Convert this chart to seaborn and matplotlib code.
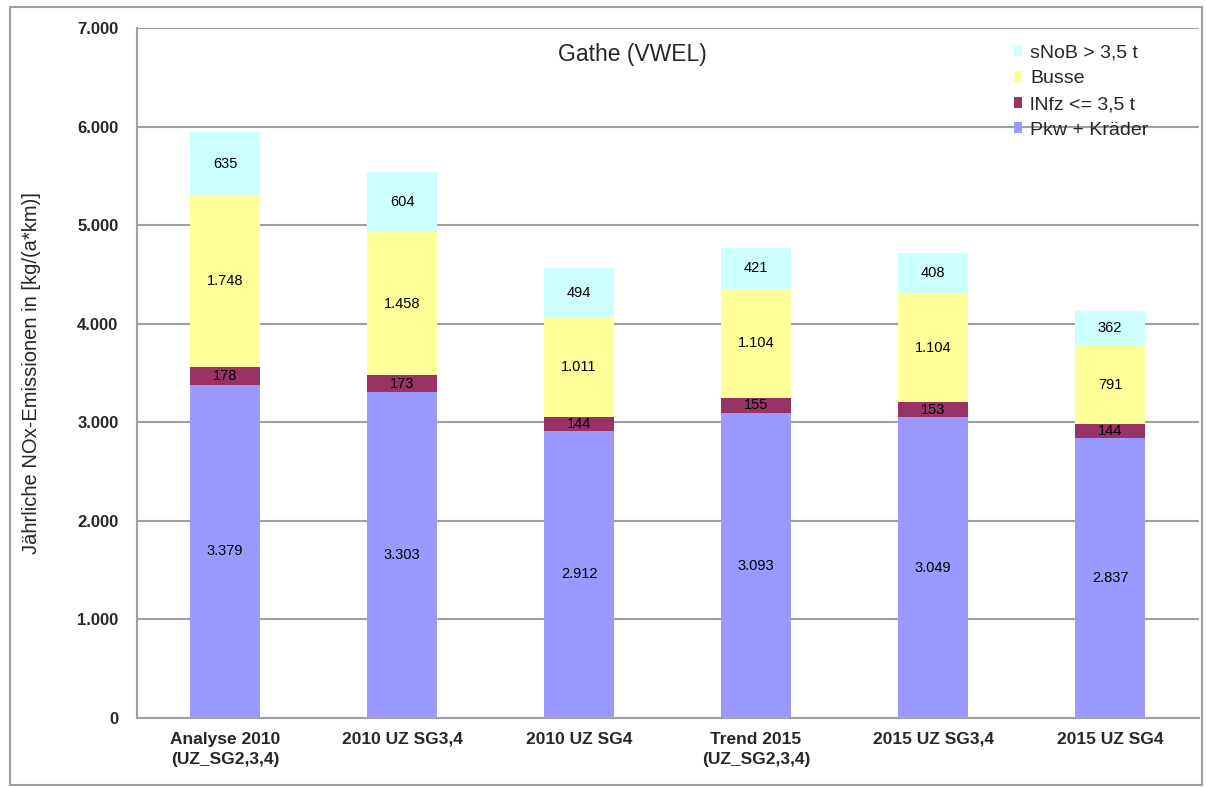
import matplotlib.pyplot as plt
import matplotlib.ticker as mticker
from matplotlib.patches import Rectangle, Patch
import numpy as np
import pandas as pd
import seaborn as sns

# Data
categories = ["Analyse 2010\n(UZ_SG2,3,4)", "2010 UZ SG3,4", "2010 UZ SG4",
              "Trend 2015\n(UZ_SG2,3,4)", "2015 UZ SG3,4", "2015 UZ SG4"]
pkw = [3379, 3303, 2912, 3093, 3049, 2837]
lnfz = [178, 173, 144, 155, 153, 144]
busse = [1748, 1458, 1011, 1104, 1104, 791]
snob = [635, 604, 494, 421, 408, 362]

series_names = ["Pkw + Kräder", "lNfz <= 3,5 t", "Busse", "sNoB > 3,5 t"]
series_vals = [pkw, lnfz, busse, snob]
series_colors = ["#9999FF", "#993366", "#FFFF99", "#CCFFFF"]

sns.set_style("white")
plt.rcParams["font.family"] = ["Liberation Sans", "DejaVu Sans"]


def de_fmt(v):
    return f"{int(v):,}".replace(",", ".")


fig = plt.figure(figsize=(12.06, 7.87), dpi=100)
ax = fig.add_axes([0.1132, 0.0877, 0.8806, 0.8767])

bottom = np.zeros(len(categories))
for name, vals, col in zip(series_names, series_vals, series_colors):
    df = pd.DataFrame({"cat": categories, "val": vals})
    sns.barplot(data=df, x="cat", y="val", color=col, width=0.4,
                bottom=bottom, ax=ax, saturation=1, linewidth=0,
                errorbar=None, zorder=3)
    for i, v in enumerate(vals):
        ax.text(i, bottom[i] + v / 2, de_fmt(v), ha="center", va="center",
                fontsize=10.5, color="black", zorder=4)
    bottom = bottom + np.array(vals)

ax.set_xlim(-0.5, len(categories) - 0.5)
ax.set_ylim(0, 7000)
ax.yaxis.set_major_locator(mticker.MultipleLocator(1000))
ax.yaxis.set_major_formatter(mticker.FuncFormatter(lambda x, _: de_fmt(x)))
ax.yaxis.grid(True, color="#A0A0A0", linewidth=1.5, zorder=0)
ax.set_axisbelow(True)

# x tick marks at category boundaries, labels at centres
ax.set_xticks(np.arange(len(categories)))
ax.set_xticklabels(categories, fontsize=12.5, fontweight="bold",
                   linespacing=1.4)
ax.set_xticks(np.arange(len(categories) + 1) - 0.5, minor=True)
ax.tick_params(axis="x", which="major", length=0, pad=10)
ax.tick_params(axis="x", which="minor", length=5, color="#A0A0A0", width=1.2)
ax.tick_params(axis="y", length=5, color="#A0A0A0", width=1.2, labelsize=12,
               pad=8)
for lab in ax.get_yticklabels():
    lab.set_fontweight("bold")

ax.set_xlabel("")
ax.set_ylabel("Jährliche NOx-Emissionen in [kg/(a*km)]", fontsize=14.5)
ax.yaxis.set_label_coords(-0.09, 0.5)

for side in ["top", "right"]:
    ax.spines[side].set_visible(False)
for side in ["left", "bottom"]:
    ax.spines[side].set_color("#A0A0A0")
    ax.spines[side].set_linewidth(1.5)

ax.text(0.467, 0.979, "Gathe (VWEL)", transform=ax.transAxes, ha="center",
        va="top", fontsize=16.5)

handles = [Patch(facecolor=c, edgecolor="none") for c in series_colors[::-1]]
ax.legend(handles, series_names[::-1], loc="upper left",
          bbox_to_anchor=(0.826, 0.976), frameon=False, fontsize=14,
          handlelength=0.45, handleheight=0.5, handletextpad=0.4,
          labelspacing=0.45, borderaxespad=0, borderpad=0)

# outer chart border
fig.patches.append(Rectangle((0.008, 0.003), 0.989, 0.988,
                             transform=fig.transFigure, fill=False,
                             edgecolor="#A0A0A0", linewidth=1.5))

fig.savefig("out.png", dpi=100)
